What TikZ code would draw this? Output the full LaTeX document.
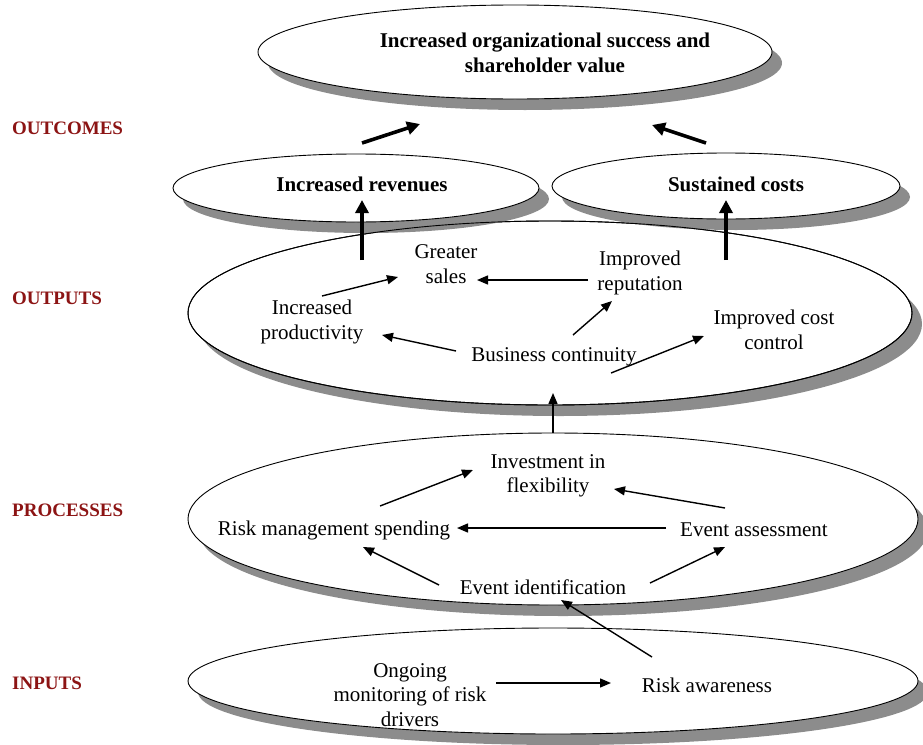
\documentclass[tikz,border=0pt]{standalone}
\usepackage{fontspec}
\setmainfont{Liberation Serif}
\usetikzlibrary{shapes.geometric,shadows,arrows.meta}
\definecolor{levelred}{RGB}{140,20,20}
\definecolor{shadegray}{RGB}{140,140,140}

\begin{document}
\begin{tikzpicture}[x=1pt,y=-1pt,
  layer/.style={ellipse, draw=black, line width=0.9pt, fill=white, inner sep=0pt,
    drop shadow={shadow xshift=10pt, shadow yshift=-11pt, fill=shadegray, opacity=1}},
  txt/.style={align=center, inner sep=0pt, font=\fontsize{21}{24.5}\selectfont},
  btxt/.style={txt, font=\fontsize{21}{24.5}\selectfont\bfseries},
  levellabel/.style={anchor=west, inner sep=0pt, text=levelred,
    font=\fontsize{19}{22}\selectfont\bfseries},
  arr/.style={line width=1.4pt, -{Triangle[length=11pt,width=9pt]}},
  bigarr/.style={line width=3.6pt, -{Triangle[length=13pt,width=13pt]}}
]
\useasboundingbox (0,0) rectangle (923,744);

% layers, bottom to top
\node[layer, minimum width=730pt, minimum height=106pt] (inlayer) at (553,681) {};
\node[layer, minimum width=730pt, minimum height=172pt] (proclayer) at (553,519) {};
\node[layer, minimum width=724pt, minimum height=184pt] (outlayer) at (550,313) {};
\node[layer, minimum width=514pt, minimum height=94pt] (goal) at (515,52) {};
\node[layer, minimum width=366pt, minimum height=68pt] (rev) at (356,188) {};
\node[layer, minimum width=348pt, minimum height=66pt] (cost) at (726,186) {};
% outline of the outputs layer drawn again over the outcome shadows
\draw[line width=0.9pt] (outlayer.center) ellipse [x radius=362, y radius=92];

% level labels
\node[levellabel] (lblout) at (12,128) {OUTCOMES};
\node[levellabel] (lblput) at (12,298) {OUTPUTS};
\node[levellabel] (lblproc) at (12,510) {PROCESSES};
\node[levellabel] (lblin) at (12,683) {INPUTS};

% outcomes
\node[btxt] (goaltxt) at (545,53) {Increased organizational success and\\shareholder value};
\node[btxt] (revtxt) at (362,184) {Increased revenues};
\node[btxt] (costtxt) at (736,184) {Sustained costs};

% outputs
\node[txt] (sales) at (446,264) {Greater\\sales};
\node[txt] (repu) at (640,273) {Improved\\reputation};
\node[txt] (prod) at (312,322) {Increased\\productivity};
\node[txt] (bcont) at (554,357) {Business continuity};
\node[txt] (ccontrol) at (774,330) {Improved cost\\control};

% processes
\node[txt] (invest) at (548,476) {Investment in\\flexibility};
\node[txt] (spend) at (334,530) {Risk management spending};
\node[txt] (assess) at (754,530) {Event assessment};
\node[txt] (ident) at (543,587) {Event identification};

% inputs
\node[txt] (monitor) at (410,695) {Ongoing\\monitoring of risk\\drivers};
\node[txt] (aware) at (707,685) {Risk awareness};

% outcome arrows
\draw[bigarr] ([shift={(6,-45)}]rev.center) -- ([shift={(-95,72)}]goal.center);
\draw[bigarr] ([shift={(-20,-43)}]cost.center) -- ([shift={(137,73)}]goal.center);
\draw[bigarr] ([shift={(-188,-53)}]outlayer.center) -- ([shift={(6,12)}]rev.center);
\draw[bigarr] ([shift={(176,-53)}]outlayer.center) -- ([shift={(0,14)}]cost.center);

% output arrows
\draw[arr] ([shift={(10,-26)}]prod.center) -- ([shift={(-48,13)}]sales.center);
\draw[arr] ([shift={(-52,7)}]repu.center) -- ([shift={(31,16)}]sales.center);
\draw[arr] ([shift={(-98,-6)}]bcont.center) -- ([shift={(70,13)}]prod.center);
\draw[arr] ([shift={(19,-22)}]bcont.center) -- ([shift={(-28,28)}]repu.center);
\draw[arr] ([shift={(57,16)}]bcont.center) -- ([shift={(-70,6)}]ccontrol.center);

% processes to outputs
\draw[arr] (proclayer.north) -- ([shift={(3,80)}]outlayer.center);

% process arrows
\draw[arr] ([shift={(46,-24)}]spend.center) -- ([shift={(-75,-6)}]invest.center);
\draw[arr] ([shift={(-29,-22)}]assess.center) -- ([shift={(66,13)}]invest.center);
\draw[arr] ([shift={(-88,-2)}]assess.center) -- ([shift={(123,-2)}]spend.center);
\draw[arr] ([shift={(-104,-2)}]ident.center) -- ([shift={(29,17)}]spend.center);
\draw[arr] ([shift={(107,-4)}]ident.center) -- ([shift={(-29,17)}]assess.center);

% input arrows
\draw[arr] ([shift={(-55,-28)}]aware.center) -- ([shift={(18,13)}]ident.center);
\draw[arr] ([shift={(86,-12)}]monitor.center) -- ([shift={(-96,-2)}]aware.center);
\end{tikzpicture}
\end{document}
